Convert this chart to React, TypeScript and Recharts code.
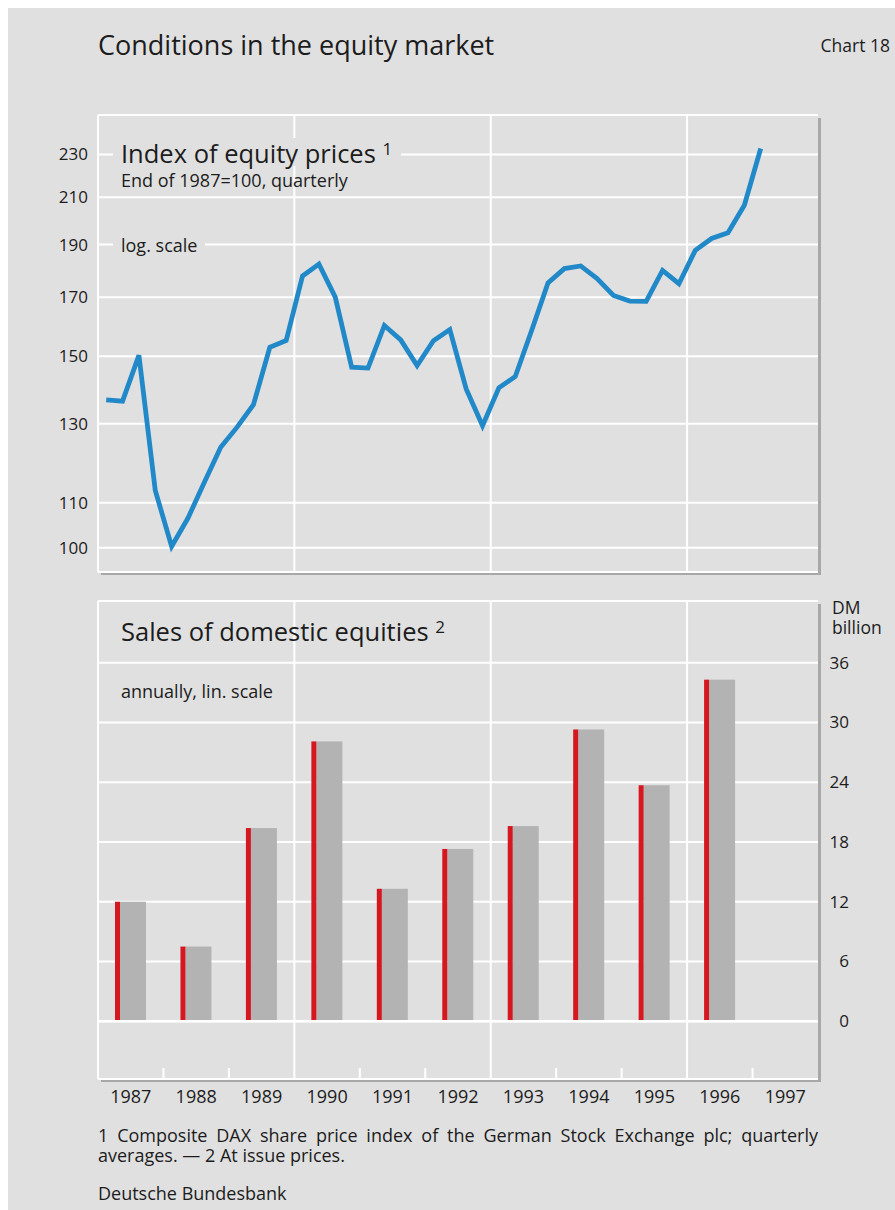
import React from 'react';
import {
  LineChart,
  Line,
  BarChart,
  Bar,
  XAxis,
  YAxis,
  CartesianGrid,
  ReferenceLine,
} from 'recharts';

// quarterly DAX index, end of 1987 = 100, 1987 Q1 .. 1997 Q1
const startYear = 1987;
const indexValues = [
  136.8, 136.4, 150.3, 112.9,
  100.3, 106.5, 114.9, 123.7,
  129.1, 135.4, 152.9, 155.1,
  177.8, 182.3, 170.0, 146.6,
  146.3, 160.1, 155.3, 147.1,
  155.0, 158.7, 140.0, 129.5,
  140.3, 143.7, 158.4, 175.2,
  180.6, 181.6, 176.8, 170.6,
  168.6, 168.5, 179.9, 174.9,
  187.7, 192.5, 194.8, 206.5,
  232.9,
];
const indexTicks = [100, 110, 130, 150, 170, 190, 210, 230];
const indexDomain = [95, 250];
const indexGridYears = [1990, 1993, 1996];

// annual sales of domestic equities, DM billion
const years = ['1987', '1988', '1989', '1990', '1991', '1992', '1993', '1994', '1995', '1996', '1997'];
const salesValues = [12.0, 7.5, 19.4, 28.1, 13.3, 17.3, 19.6, 29.3, 23.7, 34.3, null];
const salesTicks = [0, 6, 12, 18, 24, 30, 36];
const salesDomain = [-5.8, 42.2];
const smallTickYears = ['1988', '1989', '1991', '1992', '1994', '1995', '1997'];
const salesGridYears = ['1990', '1993', '1996'];

const BG = '#e0e0e0';
const GRID = '#ffffff';
const SHADOW = '#a8a8a8';
const BLUE = '#2289c9';
const RED = '#d51820';
const BAR_GRAY = '#b3b3b3';
const TEXT = '#1c1c1c';
const FONT = "'Open Sans', 'Noto Sans', sans-serif";

const indexData = indexValues.map((v, i) => ({ t: startYear + (i + 0.5) / 4, v }));
const salesData = years.map((y, i) => ({ year: y, v: salesValues[i] }));

const SalesBar = (props: any) => {
  const { x, y, width, height } = props;
  if (!height || height <= 0) return null;
  return (
    <g>
      <rect x={x + 5} y={y} width={width - 5} height={height} fill={BAR_GRAY} />
      <rect x={x} y={y} width={5} height={height} fill={RED} />
    </g>
  );
};

const RightTick = (props: any) => {
  const { x, y, payload } = props;
  return (
    <text x={x + 23} y={y} dy="0.35em" textAnchor="end" fill={TEXT} fontSize={17} fontFamily={FONT}>
      {payload.value}
    </text>
  );
};

// place text by the baseline of its first line (Open Sans metrics)
const txt = (left: number, baseline: number, size: number, extra: React.CSSProperties = {}, lh = size): React.CSSProperties => ({
  position: 'absolute',
  left,
  top: baseline - lh / 2 - 0.388 * size,
  fontSize: size,
  lineHeight: `${lh}px`,
  color: TEXT,
  whiteSpace: 'nowrap',
  ...extra,
});

const sup: React.CSSProperties = { fontSize: 17, lineHeight: 0, position: 'relative', top: -8 };

export default function App() {
  return (
    <div style={{ position: 'absolute', left: 0, top: 0, width: 895, height: 1210, background: '#fff', fontFamily: FONT }}>
      <div style={{ position: 'absolute', left: 8, top: 8, width: 887, height: 1202, background: BG }} />

      <div style={txt(98, 55, 27)}>Conditions in the equity market</div>
      <div style={{ ...txt(0, 53, 17.5), left: 'auto', right: 5 }}>Chart 18</div>

      {/* panel frames with drop shadow */}
      <div style={{ position: 'absolute', left: 98, top: 115, width: 720, height: 457, background: BG, boxShadow: `3px 3px 0 ${SHADOW}` }} />
      <div style={{ position: 'absolute', left: 98, top: 601, width: 720, height: 478, background: BG, boxShadow: `3px 3px 0 ${SHADOW}` }} />

      <div style={{ position: 'absolute', left: 0, top: 100 }}>
        <LineChart width={895} height={490} data={indexData} margin={{ top: 15, right: 77, bottom: 18, left: 0 }}>
          <CartesianGrid vertical={false} stroke={GRID} strokeWidth={2} />
          <XAxis dataKey="t" type="number" domain={[startYear, startYear + 11]} allowDataOverflow hide />
          <YAxis
            scale="log"
            domain={indexDomain}
            allowDataOverflow
            ticks={indexTicks}
            interval={0}
            width={98}
            tickLine={false}
            tickMargin={4}
            axisLine={{ stroke: GRID, strokeWidth: 2 }}
            tick={{ fill: TEXT, fontSize: 17, fontFamily: FONT }}
          />
          <ReferenceLine y={indexDomain[1]} stroke={GRID} strokeWidth={2} />
          {indexGridYears.map((yr) => (
            <ReferenceLine key={yr} x={yr} stroke={GRID} strokeWidth={2} />
          ))}
          <Line
            type="linear"
            dataKey="v"
            stroke={BLUE}
            strokeWidth={4.8}
            strokeLinejoin="miter"
            dot={false}
            activeDot={false}
            isAnimationActive={false}
          />
        </LineChart>
      </div>

      <div style={{ position: 'absolute', left: 0, top: 590 }}>
        <BarChart width={895} height={530} data={salesData} margin={{ top: 11, right: 0, bottom: 11, left: 98 }}>
          <CartesianGrid vertical={false} stroke={GRID} strokeWidth={2} />
          <XAxis
            dataKey="year"
            interval={0}
            height={30}
            tickLine={false}
            axisLine={false}
            tickMargin={5}
            tick={{ fill: TEXT, fontSize: 18, fontFamily: FONT }}
          />
          <YAxis
            orientation="right"
            domain={salesDomain}
            allowDataOverflow
            ticks={salesTicks}
            interval={0}
            width={77}
            tickLine={false}
            axisLine={false}
            tick={<RightTick />}
          />
          <ReferenceLine y={salesDomain[1]} stroke={GRID} strokeWidth={2} />
          <ReferenceLine y={0} stroke={GRID} strokeWidth={2.5} />
          <ReferenceLine x={years[0]} position="start" stroke={GRID} strokeWidth={2} />
          {salesGridYears.map((y) => (
            <ReferenceLine key={y} x={y} position="start" stroke={GRID} strokeWidth={2} />
          ))}
          {smallTickYears.map((y) => (
            <ReferenceLine
              key={`t${y}`}
              position="start"
              segment={[{ x: y, y: salesDomain[0] }, { x: y, y: salesDomain[0] + 1.1 }]}
              stroke={GRID}
              strokeWidth={2}
            />
          ))}
          <Bar dataKey="v" barSize={31} shape={<SalesBar />} isAnimationActive={false} />
        </BarChart>
      </div>

      {/* in-panel captions */}
      <div style={txt(113, 163.5, 25.5, { background: BG, padding: '3px 9px 0 8px', top: 163.5 - 0.888 * 25.5 - 3 })}>
        Index of equity prices <span style={sup}>1</span>
      </div>
      <div style={txt(121, 186.5, 18)}>End of 1987=100, quarterly</div>
      <div style={txt(113, 251.5, 18, { background: BG, padding: '2px 8px', top: 251.5 - 0.888 * 18 - 2 })}>log. scale</div>

      <div style={txt(121, 642, 25.5)}>
        Sales of domestic equities <span style={sup}>2</span>
      </div>
      <div style={txt(121, 698.3, 18)}>annually, lin. scale</div>
      <div style={txt(832, 613.5, 17.5, {}, 20)}>
        DM
        <br />
        billion
      </div>

      {/* footnotes */}
      <div style={txt(98, 1143, 18, { width: 720, textAlign: 'justify', whiteSpace: 'normal' }, 19.5)}>
        1 Composite DAX share price index of the German Stock Exchange plc; quarterly averages. — 2 At issue prices.
      </div>
      <div style={txt(98, 1200, 18)}>Deutsche Bundesbank</div>
    </div>
  );
}
